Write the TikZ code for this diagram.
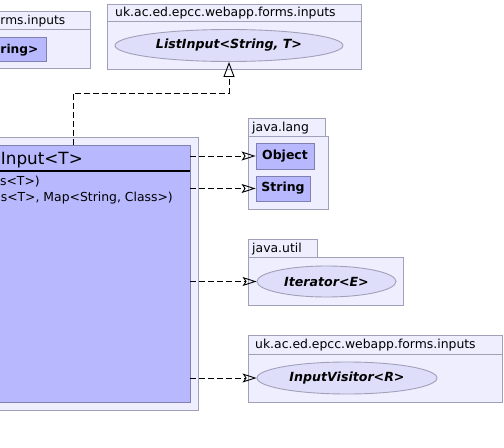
\documentclass[tikz,border=0pt]{standalone}
\usepackage{fontspec}
\setmainfont{DejaVu Sans}
\usetikzlibrary{arrows.meta,shapes.geometric}
\definecolor{pkgfill}{RGB}{238,238,255}
\definecolor{pkgdraw}{RGB}{160,160,184}
\definecolor{clsfill}{RGB}{184,184,255}
\definecolor{clsdraw}{RGB}{128,128,176}
\definecolor{ellfill}{RGB}{222,222,250}
\begin{document}
\begin{tikzpicture}[x=1bp,y=-1bp,
  pkg/.style={draw=pkgdraw,fill=pkgfill,line width=0.9bp},
  cls/.style={rectangle,draw=clsdraw,fill=clsfill,line width=0.9bp,inner sep=0},
  ell/.style={ellipse,draw=pkgdraw,fill=ellfill,line width=0.9bp,inner sep=0},
  lbl/.style={inner sep=0,font=\fontsize{12.4bp}{14bp}\selectfont},
  bl/.style={inner sep=0,font=\fontsize{12.5bp}{14bp}\selectfont\bfseries},
  bi/.style={inner sep=0,font=\fontsize{12.6bp}{14bp}\selectfont\bfseries\itshape},
  ttl/.style={inner sep=0,font=\fontsize{16.8bp}{18bp}\selectfont},
  conn/.style={dash pattern=on 6bp off 3bp,line width=0.9bp},
  dep/.style={conn,-{Stealth[open,length=14bp,width=9bp,inset=3bp]}},
  real/.style={conn,-{Triangle[open,length=15bp,width=11bp]}}
]
\useasboundingbox (0,0) rectangle (504,448);
\clip (0,0) rectangle (504,448);

% top-left package (partial)
\draw[pkg] (-10,11) rectangle (90,68);
\draw[pkgdraw,line width=0.9bp] (-10,29) -- (90,29);
\node[inner sep=0,font=\fontsize{12.2bp}{14bp}\selectfont,anchor=base west] (tlp) at (0.3,24.5) {rms.inputs};
\node[cls,minimum width=56bp,minimum height=24bp] (tlc) at (18,49) {};
\node[inner sep=0,font=\fontsize{12.2bp}{14bp}\selectfont\bfseries,anchor=base west] (tlct) at (0.3,53.5) {ring>};

% top package
\draw[pkg] (107,4) rectangle (361,69);
\draw[pkgdraw,line width=0.9bp] (107,21) -- (361,21);
\node[lbl,anchor=base west] (tpl) at (115,16.5) {uk.ac.ed.epcc.webapp.forms.inputs};
\node[ell,bi,minimum width=228bp,minimum height=32bp] (listin) at (229,45.5) {ListInput<String, T>};

% main package (partial)
\draw[pkg] (-10,137) rectangle (198,410);
\node[cls,minimum width=200bp,minimum height=257bp] (main) at (90,273.5) {};
\draw[black,line width=2bp] (-10,171.5) -- (190,171.5);
\node[ttl,anchor=base west] (mtitle) at (0.7,164.5) {Input<T>};
\node[lbl,anchor=base east] (m1) at (40,186) {s<T>)};
\node[lbl,anchor=base east] (m2) at (173,202) {s<T>, Map<String, Class>)};

% java.lang
\draw[pkg] (248,118) rectangle (325,136);
\draw[pkg] (248,136) rectangle (328,209);
\node[lbl,anchor=base west] (jl) at (252,131.5) {java.lang};
\node[cls,bl,minimum width=58bp,minimum height=26bp] (obj) at (285,156) {Object};
\node[cls,bl,minimum width=54bp,minimum height=25bp] (str) at (283,188.5) {String};

% java.util
\draw[pkg] (248,239) rectangle (317,257);
\draw[pkg] (248,257) rectangle (403,305);
\node[lbl,anchor=base west] (ju) at (252,252.5) {java.util};
\node[ell,bi,minimum width=139bp,minimum height=31bp] (iter) at (326.5,281.5) {Iterator<E>};

% bottom package
\draw[pkg] (248,335) rectangle (502,402);
\draw[pkgdraw,line width=0.9bp] (248,354) -- (502,354);
\node[lbl,anchor=base west] (bpl) at (255,348.5) {uk.ac.ed.epcc.webapp.forms.inputs};
\node[ell,bi,minimum width=180bp,minimum height=32bp] (visit) at (347,378) {InputVisitor<R>};

% connectors
\coordinate (c1) at (73,145);
\coordinate (c2) at (229,93);
\draw[real] (c1) |- (c2) -- (listin.south);
\draw[dep] (obj.west -| main.east) -- (obj.west);
\draw[dep] (str.west -| main.east) -- (str.west);
\draw[dep] (iter.west -| main.east) -- (iter.west);
\draw[dep] (visit.west -| main.east) -- (visit.west);
\end{tikzpicture}
\end{document}
